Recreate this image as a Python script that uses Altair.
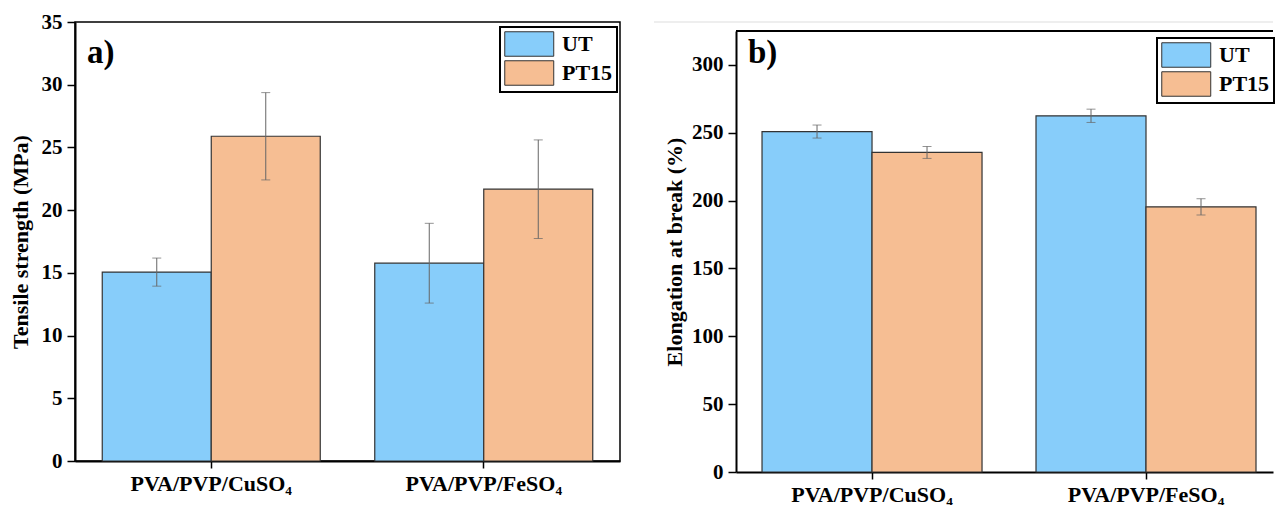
import altair as alt
import pandas as pd

# Sample groups and treatment series
categories = ["PVA/PVP/CuSO₄", "PVA/PVP/FeSO₄"]
series = ["UT", "PT15"]
colors = ["#87CDFA", "#F6BE93"]

# Tensile strength (MPa): mean and standard deviation per group
tensile_ut = [15.06, 15.77]
tensile_ut_sd = [1.12, 3.18]
tensile_pt15 = [25.89, 21.67]
tensile_pt15_sd = [3.48, 3.93]

# Elongation at break (%): mean and standard deviation per group
elong_ut = [250.9, 262.5]
elong_ut_sd = [4.8, 4.9]
elong_pt15 = [235.5, 195.4]
elong_pt15_sd = [4.4, 6.0]

FONT = "Liberation Serif, Times New Roman, serif"

# Wide legend swatch: path is offset so that the 2:1 box starts at the entry origin
SWATCH = "M-1,-1H3V1H-1Z"


def build_frame(ut, ut_sd, pt, pt_sd):
    rows = []
    for i, cat in enumerate(categories):
        for name, vals, sds in (("UT", ut, ut_sd), ("PT15", pt, pt_sd)):
            rows.append({
                "category": cat,
                "series": name,
                "value": vals[i],
                "lo": vals[i] - sds[i],
                "hi": vals[i] + sds[i],
            })
    return pd.DataFrame(rows)


def panel(df, tag, tag_xy, ytitle, ymax, tick_values, major_step, width, height,
          yrange, x_scale, title_pad, legend_xy, framed):
    x_axis = alt.Axis(
        title=None, labelAngle=0, labelFont=FONT, labelFontSize=22,
        labelFontWeight="bold", labelColor="black", labelPadding=5,
        tickSize=7, tickWidth=1.5, tickColor="black",
        domainWidth=2, domainColor="black",
    )
    x = alt.X("category:N", sort=categories, scale=x_scale, axis=x_axis)
    xo = alt.XOffset("series:N", sort=series,
                     scale=alt.Scale(paddingInner=0, paddingOuter=0))

    scale_args = {"domain": [0, ymax], "nice": False, "zero": True}
    if yrange is not None:
        scale_args["range"] = yrange
    y_scale = alt.Scale(**scale_args)
    y_axis = alt.Axis(
        title=ytitle, values=tick_values,
        labelExpr=f"datum.value % {major_step} === 0 ? datum.label : ''",
        tickSize={"condition": {"test": f"datum.value % {major_step} !== 0", "value": 4},
                  "value": 8},
        tickWidth=1.5, tickColor="black", domainWidth=2, domainColor="black",
        labelFont=FONT, labelFontSize=21, labelFontWeight="bold",
        labelColor="black", labelPadding=5, grid=False,
        titleFont=FONT, titleFontSize=22, titleFontWeight="bold",
        titleColor="black", titlePadding=title_pad,
    )

    legend = alt.Legend(
        title=None, orient="none", legendX=legend_xy[0], legendY=legend_xy[1],
        symbolType=SWATCH, symbolSize=600,
        symbolStrokeColor="#333333", symbolStrokeWidth=1, symbolOpacity=1,
        labelFont=FONT, labelFontSize=22, labelFontWeight="bold",
        labelColor="black", labelOffset=32,
        fillColor="white", strokeColor="black", padding=4, rowPadding=-1,
    )

    base = alt.Chart(df)
    bars = base.mark_bar(stroke="#333333", strokeWidth=1.2).encode(
        x=x, xOffset=xo,
        y=alt.Y("value:Q", scale=y_scale, axis=y_axis),
        color=alt.Color("series:N", sort=series,
                        scale=alt.Scale(domain=series, range=colors), legend=legend),
    )
    whisker = base.mark_rule(color="#666666", strokeWidth=1).encode(
        x=x, xOffset=xo,
        y=alt.Y("lo:Q", title=ytitle), y2="hi:Q",
    )
    cap_lo = base.mark_tick(color="#666666", thickness=1, size=9).encode(
        x=x, xOffset=xo, y=alt.Y("lo:Q", title=ytitle),
    )
    cap_hi = base.mark_tick(color="#666666", thickness=1, size=9).encode(
        x=x, xOffset=xo, y=alt.Y("hi:Q", title=ytitle),
    )
    tag_text = alt.Chart(pd.DataFrame({"t": [tag]})).mark_text(
        font=FONT, fontSize=33, fontWeight="bold", color="black",
        align="left", baseline="alphabetic",
    ).encode(text="t:N", x=alt.value(tag_xy[0]), y=alt.value(tag_xy[1]))

    layers = [bars, whisker, cap_lo, cap_hi, tag_text]
    view = alt.ViewBackground(stroke="black", strokeWidth=1.5)
    if not framed:
        view = alt.ViewBackground(stroke=None)
        # faint page edge above the panel and the solid upper frame edge
        page_edge = alt.Chart(pd.DataFrame({"t": [tag]})).mark_rule(
            color="#dddddd", strokeWidth=1
        ).encode(x=alt.value(-82), x2=alt.value(width), y=alt.value(0))
        top_edge = alt.Chart(pd.DataFrame({"v": [ymax]})).mark_rule(
            color="black", strokeWidth=2
        ).encode(y=alt.Y("v:Q", title=ytitle))
        layers = [page_edge] + layers + [top_edge]

    return alt.layer(*layers).properties(width=width, height=height, view=view)


tensile_df = build_frame(tensile_ut, tensile_ut_sd, tensile_pt15, tensile_pt15_sd)
elong_df = build_frame(elong_ut, elong_ut_sd, elong_pt15, elong_pt15_sd)

panel_a = panel(
    tensile_df, "a)", (12, 41), "Tensile strength (MPa)", 35,
    [i * 2.5 for i in range(15)], 5, 545, 439, None,
    alt.Scale(paddingInner=0.2, paddingOuter=0.1),
    9, (425, 5), True,
)
panel_b = panel(
    elong_df, "b)", (12, 41), "Elongation at break (%)", 325,
    [i * 25 for i in range(13)], 50, 537, 450, [450, 9],
    alt.Scale(paddingInner=0.197, paddingOuter=0.0785, align=0.605),
    5, (421, 16), False,
)

chart = alt.hconcat(panel_a, panel_b, spacing=116, bounds="flush").resolve_scale(
    x="independent", y="independent", color="independent", xOffset="independent"
).properties(
    padding={"left": 8, "top": 10, "right": 0, "bottom": 0},
    background="white",
).configure_legend(strokeWidth=2)

chart.save("out.html", embed_options={"renderer": "svg", "actions": False})
